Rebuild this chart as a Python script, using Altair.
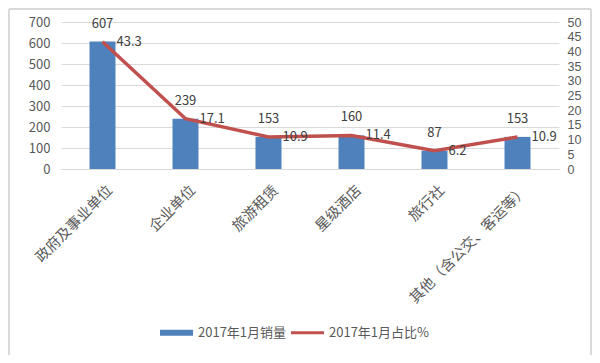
import altair as alt
import pandas as pd

categories = ["政府及事业单位", "企业单位", "旅游租赁", "星级酒店", "旅行社", "其他（含公交、客运等）"]
sales = [607, 239, 153, 160, 87, 153]
share = [43.3, 17.1, 10.9, 11.4, 6.2, 10.9]
series_names = ["2017年1月销量", "2017年1月占比%"]
left_ticks = [0, 100, 200, 300, 400, 500, 600, 700]
right_ticks = [0, 5, 10, 15, 20, 25, 30, 35, 40, 45, 50]

df = pd.DataFrame({
    "cat": categories,
    "sales": sales,
    "share": share,
    "series": [series_names[0]] * len(categories),
})

FONT = "Noto Sans CJK SC"
NUMFONT = "Liberation Sans"
BLUE = "#4F81BD"
RED = "#C0504D"
GREY = "#595959"

x_enc = alt.X(
    "cat:N",
    sort=categories,
    scale=alt.Scale(paddingInner=0, paddingOuter=0),
    axis=alt.Axis(
        title=None,
        labelAngle=-45,
        labelAlign="right",
        labelBaseline="middle",
        labelPadding=19,
        labelOffset=8,
        labelFontSize=14.5,
        labelColor=GREY,
        labelFont=FONT,
        ticks=False,
        tickSize=0,
        domain=True,
        domainColor="#D9D9D9",
        grid=False,
    ),
)

y_left = alt.Y(
    "sales:Q",
    scale=alt.Scale(domain=[0, 700]),
    axis=alt.Axis(
        title=None,
        values=left_ticks,
        grid=True,
        gridColor="#D9D9D9",
        domain=False,
        ticks=False,
        labelPadding=11,
        labelFontSize=13,
        labelColor=GREY,
        labelFont=FONT,
    ),
)

y_right = alt.Y(
    "share:Q",
    scale=alt.Scale(domain=[0, 50]),
    axis=alt.Axis(
        title=None,
        orient="right",
        values=right_ticks,
        grid=False,
        domain=False,
        ticks=False,
        labelPadding=8,
        labelFontSize=12.5,
        labelColor=GREY,
        labelFont=NUMFONT,
    ),
)

shape_expr = (
    "datum.value === '" + series_names[0] + "' ? 'M-1,-0.18H1V0.18H-1Z' : 'M-1,-0.09H1V0.09H-1Z'"
)

bars = alt.Chart(df).mark_bar(size=26).encode(
    x=x_enc,
    y=y_left,
    color=alt.Color(
        "series:N",
        scale=alt.Scale(domain=series_names, range=[BLUE, RED]),
        legend=alt.Legend(
            title=None,
            orient="none",
            legendX=99,
            legendY=294,
            direction="horizontal",
            symbolType=alt.ExprRef(shape_expr),
            symbolSize=1089,
            symbolStrokeWidth=0,
            labelFontSize=13,
            labelColor=GREY,
            labelFont=FONT,
            labelOffset=5,
            columnPadding=4,
            padding=0,
        ),
    ),
)

bar_text = alt.Chart(df).mark_text(
    baseline="bottom", dy=-11, fontSize=13, font=FONT, color="#404040"
).encode(x=x_enc, y=y_left, text=alt.Text("sales:Q"))

line = alt.Chart(df).mark_line(color=RED, strokeWidth=3.5).encode(x=x_enc, y=y_right)

line_text = alt.Chart(df).mark_text(
    align="left", baseline="middle", dx=14, fontSize=13, font=FONT, color="#404040"
).encode(x=x_enc, y=y_right, text=alt.Text("share:Q", format=".1f"))

frame = alt.Chart(df).mark_rect(
    fill=None, stroke="#D9D9D9", strokeWidth=1
).encode(
    x=alt.value(-52), x2=alt.value(530), y=alt.value(-13), y2=alt.value(334)
)

chart = alt.layer(
    alt.layer(frame, bars, bar_text),
    alt.layer(line, line_text),
).resolve_scale(y="independent").properties(
    width=498,
    height=147,
    autosize=alt.AutoSizeParams(type="none"),
    padding={"left": 53, "top": 14, "right": 33, "bottom": 186},
).configure_view(stroke=None)

chart.save("out.html", embed_options={"renderer": "svg", "actions": False})
